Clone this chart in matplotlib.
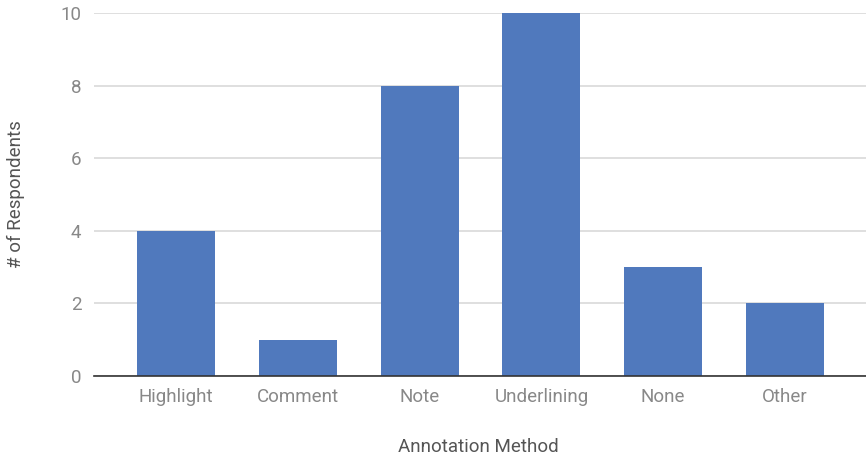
import matplotlib.pyplot as plt

# data
methods = ['Highlight', 'Comment', 'Note', 'Underlining', 'None', 'Other']
respondents = [4, 1, 8, 10, 3, 2]

plt.rcParams['font.family'] = ['Roboto', 'DejaVu Sans']

fig = plt.figure(figsize=(8.66, 4.61), dpi=100)
ax = fig.add_axes([94 / 866, 1 - 376 / 461, 772 / 866, 363 / 461])

x = range(len(methods))
ax.bar(x, respondents, width=0.64, color='#5079bd', zorder=3)

ax.set_ylim(0, 10)
ax.set_xlim(-0.673, 5.665)
ax.set_yticks([0, 2, 4, 6, 8, 10])
ax.set_xticks(list(x))
ax.set_xticklabels(methods)
ax.grid(axis='y', color='#d9d9d9', linewidth=1.2, zorder=0)
ax.tick_params(axis='both', length=0, labelsize=13.5, labelcolor='#888888')
ax.tick_params(axis='y', pad=9)
ax.tick_params(axis='x', pad=9)

for s in ['top', 'right', 'left']:
    ax.spines[s].set_visible(False)
ax.spines['bottom'].set_color('#333333')
ax.spines['bottom'].set_linewidth(1.2)
ax.spines['bottom'].set_zorder(4)

ax.set_xlabel('Annotation Method', fontsize=13.5, color='#555555')
ax.set_ylabel('# of Respondents', fontsize=13.5, color='#555555')
ax.xaxis.set_label_coords((478 - 94) / 772, -(447 - 376) / 363)
ax.yaxis.set_label_coords(-(94 - 16) / 772, 0.5)
ax.xaxis.label.set_va('center')
ax.yaxis.label.set_va('center')

fig.savefig('out.png', dpi=100)
